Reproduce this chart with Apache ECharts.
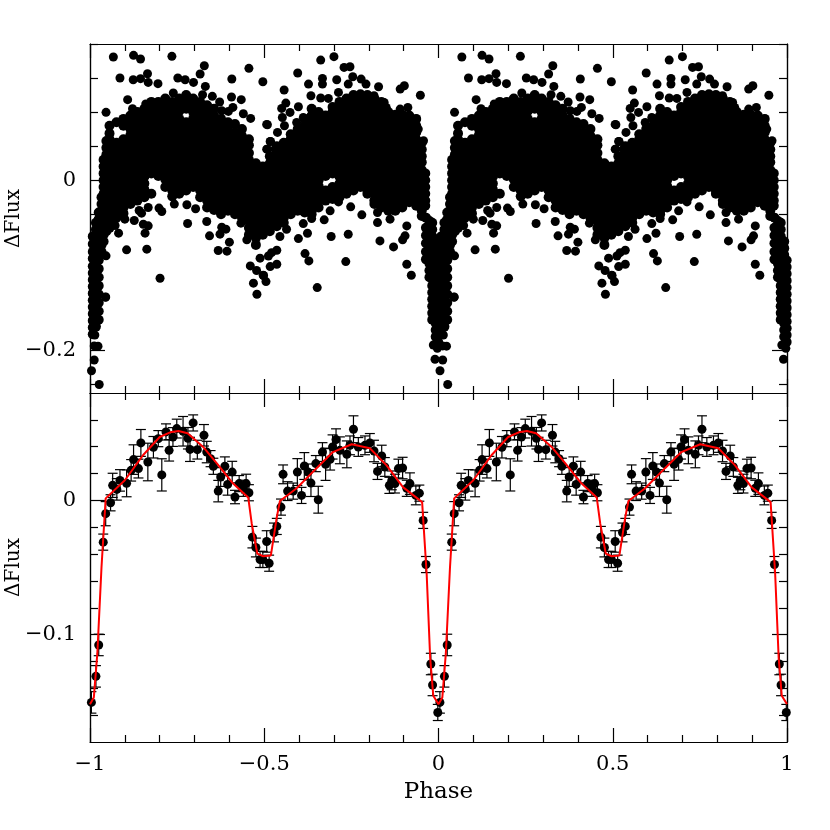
<!DOCTYPE html>
<html>
<head>
<meta charset="utf-8">
<title>Phase folded light curve</title>
<script src="https://cdn.jsdelivr.net/npm/echarts@6/dist/echarts.min.js"></script>
<style>
  html, body { margin: 0; padding: 0; background: #fff; }
  #chart { width: 830px; height: 830px; }
</style>
</head>
<body>
<div id="chart"></div>
<script>
// Top panel: one cycle of the folded data.
// The dense part is kept per column: [phase, [flux in units of 0.001, ...]]
const coreColumns = [
  [-.944, [64,55,48,41,32,24,17,8,0,-7,-16,-24,-33,-40,-48,-56]],
  [-.924, [68,44,37,28,20,12,5,-4,-12,-21,-28,-36,-44]],
  [-.904, [72,64,48,40,31,24,16,8,1,-8,-16,-25,-32,-39]],
  [-.884, [76,68,60,53,44,36,29,20,12,4,-3,-12,-20,-28]],
  [-.864, [80,72,65,56,48,40,33,24,16,9,0,-8,-15,-24]],
  [-.844, [84,76,69,60,52,45,36,28,20,13,4,-4,-11,-20]],
  [-.824, [92,88,80,73,64,56,47,40,32,24,17,8,-16]],
  [-.804, [92,84,77,68,60,52,44,37,28,20,12,5]],
  [-.784, [96,88,80,72,65,56,48,40,33,24,16,8,1,-8]],
  [-.764, [92,84,76,69,60,52,44,36,29,20,12,4,-3,-12,-19]],
  [-.744, [96,88,81,72,64,57,48,40,32,25,16,8,0,-9,-16]],
  [-.724, [100,92,84,68,60,52,45,36,28,20,13,4,-4,-12]],
  [-.704, [96,89,80,72,64,57,48,40,32,24,17,8,0,-8]],
  [-.684, [92,84,76,68,61,52,44,36,29,20,12,4,-3,-12,-20]],
  [-.664, [88,80,72,65,56,48,40,33,24,16,8,1,-8,-16,-24,-32]],
  [-.644, [84,76,68,60,53,44,36,28,21,12,4,-4,-11,-20,-28,-35]],
  [-.624, [72,64,57,48,40,32,25,16,8,0,-7,-16,-24,-32,-40]],
  [-.604, [68,60,52,45,36,28,20,13,4,-4,-12,-19,-28,-36]],
  [-.584, [66,56,49,40,32,24,17,8,0,-8,-16,-24,-31,-40]],
  [-.564, [60,52,44,37,28,20,12,5,-4,-12,-20,-27,-36,-44]],
  [-.544, [48,41,32,24,16,9,0,-8,-16,-23,-32,-40,-48,-56,-64]],
  [-.524, [20,12,4,-3,-12,-20,-28,-35,-44,-52,-60,-68,-76]],
  [-.504, [16,8,1,-8,-16,-24,-31,-40,-48,-56,-64]],
  [-.484, [28,20,12,4,-4,-11,-20,-28,-36,-43,-52,-60]],
  [-.464, [40,33,24,16,8,0,-7,-16,-24,-32,-40,-47,-54]],
  [-.444, [44,36,28,21,12,4,-4,-12,-19,-28,-36,-44,-50]],
  [-.424, [54,48,40,32,24,17,8,0,-8,-16,-23,-32,-40]],
  [-.404, [60,52,45,36,28,20,12,5,-4,-12,-20,-27,-36]],
  [-.384, [72,64,56,49,40,32,24,16,9,0,-8,-16,-24,-31,-38]],
  [-.364, [84,76,68,60,53,44,36,28,20,13,4,-4,-12,-20,-28,-36,-40]],
  [-.344, [80,72,65,56,48,40,32,25,16,8,0,-7,-16,-24,-32]],
  [-.324, [76,68,60,52,45,36,28,20,12,5,-12,-20,-24]],
  [-.304, [86,80,72,64,57,48,40,32,24,17,8,-8,-15,-22]],
  [-.284, [92,84,76,68,61,52,44,36,28,21,12,4,-4,-12,-20]],
  [-.264, [96,88,81,72,64,56,49,40,32,24,17,8,0,-8,-16]],
  [-.244, [100,92,84,77,68,60,52,44,37,28,20,12,5,-4,-12]],
  [-.224, [101,96,88,80,73,64,56,48,40,33,24,16,8,1,-8]],
  [-.204, [100,92,84,76,69,60,52,44,36,29,20,12,4,-3,-12,-16]],
  [-.184, [96,88,80,72,65,56,48,40,32,25,16,8,0,-7,-16,-24,-28]],
  [-.164, [92,84,76,68,60,53,44,36,28,20,13,4,-4,-12,-20,-28,-32]],
  [-.144, [80,72,64,57,48,40,32,24,17,8,0,-8,-15,-24,-32,-36]],
  [-.124, [76,68,60,52,45,36,28,20,12,5,-4,-12,-20,-28,-36]],
  [-.104, [77,72,64,56,49,40,32,24,16,9,0,-8,-16,-24,-32]],
  [-.084, [76,68,60,52,44,37,28,20,12,4,-3,-12,-20,-26]],
  [-.064, [72,64,56,48,41,32,24,16,8,1,-8,-16,-24,-30]],
  [-.048, [44,36,28,21,12,4,-4,-12,-20,-28,-36,-42]],
  [-.038, [8,0,-8,-16,-24,-30]]
];

// walls and bottom of the deep eclipse
const eclipseColumns = [
  [-.953, [46,38,30,21,13,6,-2,-10,-18,-27,-35,-43,-51,-60]],
  [-.961, [24,16,8,0,-8,-16,-24,-32,-40,-48,-56,-64,-72]],
  [-.967, [-20,-28,-36,-44,-52,-60,-68,-76,-84]],
  [-.975, [-38,-46,-54,-62,-70,-78,-86,-94,-104,-114,-124,-134,-144,-154,-164]],
  [-.983, [-50,-58,-66,-74,-82,-92,-100,-108,-116,-124,-132,-140,-148,-156,-164,-172]],
  [-.992, [-66,-75,-84,-92,-101,-109,-117,-125,-133,-141,-149,-157,-165,-173,-181]],
  [-.001, [-94,-102,-110,-118,-126,-134,-142,-150,-158,-166,-174,-182,-190]],
  [-.008, [-72,-80,-88,-96,-104,-112,-120,-128,-136,-144,-152,-160,-168,-176,-184]],
  [-.018, [-50,-58,-66,-74,-84,-92,-100,-108,-116,-124,-132,-140,-148,-156,-164]],
  [-.026, [-48,-56,-65,-73,-82,-90,-98,-106,-114]],
  [-.036, [-44,-56,-65,-74,-84,-93]]
];

// separate dots around the dense part
const looseDots = [
  [-.933,.1447],[-.875,.1467],[-.855,.1424],[-.765,.1455],[-.672,.1345],[-.544,.1314],[-.684,.1247],
  [-.835,.1251],[-.914,.12],[-.876,.118],[-.855,.1193],[-.833,.1149],[-.805,.1134],[-.748,.12],
  [-.727,.118],[-.703,.1149],[-.593,.1189],[-.504,.1157],[-.669,.1102],[-.761,.1024],[-.677,.1004],
  [-.649,.0985],[-.594,.0977],[-.566,.0946],[-.892,.0946],[-.628,.0918],[-.84,.0895],[-.59,.0855],
  [-.954,.0797],[-.878,.084],[-.622,.0816],[-.603,.0808],[-.56,.0781],[-.539,.0726],[-.493,.0655],
  [-.483,.0456],[-.491,.0365],[-.3,.1451],[-.338,.1411],[-.271,.1325],[-.254,.1333],[-.404,.1259],
  [-.373,.1129],[-.333,.1196],[-.333,.1129],[-.292,.118],[-.246,.1215],[-.222,.1188],[-.443,.1059],
  [-.438,.0906],[-.45,.0843],[-.426,.0796],[-.448,.0737],[-.442,.0639],[-.491,.0651],[-.462,.0561],
  [-.402,.0863],[-.388,.0737],[-.407,.0678],[-.366,.0992],[-.338,.0965],[-.316,.0961],[-.287,.1031],
  [-.259,.1129],[-.208,.1129],[-.172,.1098],[-.185,.0992],[-.11,.107],[-.098,.111],[-.052,.0998],
  [-.156,.0914],[-.15,.0855],[-.124,.0776],[-.11,.0835],[-.088,.0855],[-.482,.0455],[-.493,.0365],
  [-.469,.0365],[-.064,.0718],[-.058,.06],[-.043,.0463],
  [-.799,-.1152],[-.72,-.0509],[-.895,-.0818],[-.837,-.081],[-.842,-.0622],[-.918,-.0622],[-.833,-.0536],
  [-.847,-.0517],[-.928,-.0532],[-.954,-.0889],[-.955,-.1371],[-.632,-.0826],[-.607,-.0834],[-.6,-.0728],
  [-.657,-.0654],[-.627,-.0634],[-.61,-.0575],[-.622,-.0552],[-.665,-.0485],[-.873,-.0474],[-.9,-.0458],
  [-.852,-.0387],[-.859,-.0356],[-.833,-.0321],[-.802,-.0328],[-.794,-.0368],[-.758,-.0281],[-.722,-.0289],
  [-.697,-.0336],[-.54,-.1007],[-.522,-.1061],[-.502,-.112],[-.495,-.1191],[-.531,-.121],[-.521,-.134],
  [-.512,-.0916],[-.55,-.0701],[-.567,-.0505],[-.348,-.1262],[-.266,-.0956],[-.383,-.0862],[-.372,-.0948],
  [-.308,-.0662],[-.259,-.0635],[-.168,-.0713],[-.129,-.0784],[-.091,-.0988],[-.078,-.1117],[-.091,-.0537],
  [-.096,-.0654],[-.103,-.0701],[-.376,-.0623],[-.402,-.0686],[-.436,-.0576],[-.455,-.0662],[-.464,-.0823],
  [-.479,-.0851],[-.488,-.089],[-.464,-.0988],[-.483,-.1015],[-.503,-.1117],[-.328,-.0466],[-.311,-.036],
  [-.22,-.0407],[-.175,-.0498],[-.175,-.038],[-.139,-.0458],[-.252,-.0313],[-.287,-.0255],[-.388,-.051],
  [-.364,-.0451],[-.9736,-.24],[-.9957,-.2238],[-.01,-.2104],[-.988,-.2112],[-.0148,-.1936],[-.988,-.1947],
  [-.0033,-.1975],[-.9861,-.1818],[-.9555,-.1375],[-.977,-.195]
];

// Bottom panel: binned points for one cycle
const binPhase = [-.996,-.983,-.975,-.962,-.955,-.941,-.935,-.923,-.914,-.895,-.882,-.875,-.861,-.854,-.834,
  -.818,-.804,-.794,-.782,-.773,-.762,-.751,-.733,-.719,-.713,-.704,-.692,-.673,-.665,-.654,-.646,-.632,
  -.625,-.613,-.605,-.592,-.584,-.572,-.56,-.552,-.544,-.534,-.524,-.512,-.504,-.493,-.486,-.472,-.464,
  -.452,-.446,-.433,-.417,-.405,-.393,-.385,-.374,-.366,-.352,-.345,-.333,-.324,-.311,-.304,-.294,-.283,
  -.263,-.254,-.244,-.23,-.211,-.197,-.185,-.175,-.163,-.154,-.141,-.134,-.125,-.115,-.103,-.091,-.082,
  -.065,-.055,-.044,-.036,-.022,-.017,-.002];
const binFlux = [-.1505,-.1311,-.1077,-.0311,-.0099,-.0018,.0112,.0082,.0149,.0127,.0224,.0304,.0237,.0428,.0286,
  .0396,.046,.019,.051,.0373,.0472,.0535,.0515,.0463,.038,.0577,.0378,.0485,.036,.0311,.0254,.0069,
  .0174,.0254,.0119,.0211,.0025,.0125,.009,.0125,.0057,-.0274,-.0351,-.044,-.044,-.0306,-.0468,-.0239,-.0194,
  -.005,.0194,.0069,.0069,.0211,.0037,.0256,.0211,.0129,.0274,.0005,.036,.0269,.0306,.0398,.0453,.0373,
  .0343,.041,.053,.0398,.041,.0428,.0368,.0216,.0331,.0249,.0112,.0149,.0125,.0237,.0241,.009,.0125,
  .0037,.0054,-.0149,-.0478,-.1219,-.1375,-.158];
const binError = [.008,.008,.008,.006,.009,.006,.009,.008,.008,.01,.008,.011,.007,.01,.014,
  .008,.006,.012,.006,.008,.007,.007,.011,.008,.009,.006,.007,.008,.008,.006,.006,.008,
  .007,.007,.008,.008,.005,.006,.006,.007,.006,.008,.007,.006,.006,.008,.006,.007,.006,
  .006,.007,.007,.006,.01,.006,.01,.006,.01,.006,.01,.007,.012,.008,.009,.008,.01,
  .01,.007,.01,.007,.007,.007,.008,.006,.008,.007,.006,.007,.007,.007,.008,.006,.008,
  .007,.006,.006,.006,.008,.008,.006];

// Red model curve for one cycle
const modelPhase = [-1,-.989,-.979,-.967,-.955,-.9,-.848,-.8,-.77,-.746,-.72,-.676,-.636,-.59,-.546,-.536,-.52,
  -.503,-.481,-.464,-.455,-.407,-.35,-.303,-.249,-.197,-.149,-.102,-.047,-.034,-.024,-.015,0];
const modelFlux = [-.1518,-.1468,-.1142,-.0498,.0015,.015,.0336,.0472,.0507,.0517,.05,.04,.0276,.0127,.0022,-.0172,-.0396,
  -.0416,-.041,-.0125,-.0005,.009,.024,.036,.0418,.0388,.0261,.0099,-.0013,-.0545,-.1169,-.1455,-.1518];

// Axis ticks
const phaseLimits = [-1, 1];
const topLimits = [-.25, .16];
const topMajor = [0, -.2];
const topMinor = [.16, .12, .08, .04, -.04, -.08, -.12, -.16, -.24];
const lowLimits = [-.18, .08];
const lowMajor = [0, -.1];
const lowMinor = [.06, .04, .02, -.02, -.04, -.06, -.08, -.12, -.14, -.16];

const TEXT_FONT = '"DejaVu Serif"';
const LABEL_SIZE = 21;

const fmtTick = v => String(v).replace('-', '\u2212');

// the dense columns as [phase, flux] pairs
const coreCycle = [];
coreColumns.concat(eclipseColumns).forEach(([phase, fluxes]) => {
  fluxes.forEach(f => coreCycle.push([phase, f / 1000]));
});

// the folded curve is plotted twice, from -1 to 0 and from 0 to 1
const twoCycles = rows => rows.concat(rows.map(r => [r[0] + 1, ...r.slice(1)]));

const binRows = twoCycles(binPhase.map((p, i) => [p, binFlux[i], binError[i]]));
const modelRows = twoCycles(modelPhase.map((p, i) => [p, modelFlux[i]]));

function phaseAxis(gridIndex, position, withLabels) {
  return {
    type: 'value', gridIndex, position,
    min: phaseLimits[0], max: phaseLimits[1], interval: .5,
    splitLine: { show: false },
    axisLine: { onZero: false, lineStyle: { color: '#000', width: 1.2 } },
    axisTick: { inside: true, length: 14, lineStyle: { color: '#000', width: 1.2 } },
    minorTick: { show: true, splitNumber: 5, length: 7, lineStyle: { color: '#000', width: 1.2 } },
    axisLabel: {
      show: withLabels, formatter: fmtTick, margin: 12, hideOverlap: false, showMinLabel: true, showMaxLabel: true,
      color: '#000', fontFamily: TEXT_FONT, fontSize: LABEL_SIZE
    },
    name: withLabels ? 'Phase' : '',
    nameLocation: 'middle', nameGap: 39,
    nameTextStyle: { color: '#000', fontFamily: TEXT_FONT, fontSize: LABEL_SIZE + 2 }
  };
}

function fluxAxis(gridIndex, position, limits, ticks, tickLength, labels) {
  const axis = {
    type: 'value', gridIndex, position,
    min: limits[0], max: limits[1],
    splitLine: { show: false },
    axisLine: { onZero: false, lineStyle: { color: '#000', width: 1.2 } },
    axisTick: { inside: true, length: tickLength, customValues: ticks, lineStyle: { color: '#000', width: 1.2 } },
    axisLabel: { show: false }
  };
  if (labels) {
    axis.axisLabel = {
      show: true, customValues: labels, formatter: fmtTick, margin: 14,
      color: '#000', fontFamily: TEXT_FONT, fontSize: LABEL_SIZE
    };
    axis.name = '\u0394Flux';
    axis.nameLocation = 'middle';
    axis.nameRotate = 90;
    axis.nameGap = 66;
    axis.nameMoveOverlap = false;
    axis.nameTextStyle = { color: '#000', fontFamily: TEXT_FONT, fontSize: LABEL_SIZE - 1 };
  }
  return axis;
}

function renderErrorBar(params, api) {
  const x = api.value(0), y = api.value(1), err = api.value(2);
  const hi = api.coord([x, y + err]);
  const lo = api.coord([x, y - err]);
  const cap = 5;
  const style = { stroke: '#000', lineWidth: 1.2, fill: null };
  const seg = (x1, y1, x2, y2) => ({ type: 'line', shape: { x1, y1, x2, y2 }, style });
  return {
    type: 'group',
    children: [
      seg(hi[0], hi[1], lo[0], lo[1]),
      seg(hi[0] - cap, hi[1], hi[0] + cap, hi[1]),
      seg(lo[0] - cap, lo[1], lo[0] + cap, lo[1])
    ]
  };
}

const option = {
  animation: false,
  backgroundColor: '#fff',
  grid: [
    { left: 90, top: 44, width: 697, height: 349, outerBoundsMode: 'none' },
    { left: 90, top: 393, width: 697, height: 349, outerBoundsMode: 'none' }
  ],
  xAxis: [
    phaseAxis(0, 'bottom', false),
    phaseAxis(0, 'top', false),
    phaseAxis(1, 'bottom', true),
    phaseAxis(1, 'top', false)
  ],
  yAxis: [
    fluxAxis(0, 'left', topLimits, topMajor, 15, topMajor),
    fluxAxis(0, 'left', topLimits, topMinor, 8),
    fluxAxis(0, 'right', topLimits, topMajor, 15),
    fluxAxis(0, 'right', topLimits, topMinor, 8),
    fluxAxis(1, 'left', lowLimits, lowMajor, 15, lowMajor),
    fluxAxis(1, 'left', lowLimits, lowMinor, 8),
    fluxAxis(1, 'right', lowLimits, lowMajor, 15),
    fluxAxis(1, 'right', lowLimits, lowMinor, 8)
  ],
  series: [
    {
      type: 'scatter', xAxisIndex: 0, yAxisIndex: 0,
      data: twoCycles(coreCycle), symbol: 'circle', symbolSize: 10,
      itemStyle: { color: '#000', opacity: 1 }, silent: true
    },
    {
      type: 'scatter', xAxisIndex: 0, yAxisIndex: 0,
      data: twoCycles(looseDots), symbol: 'circle', symbolSize: 9,
      itemStyle: { color: '#000', opacity: 1 }, silent: true
    },
    {
      type: 'custom', xAxisIndex: 2, yAxisIndex: 4,
      data: binRows, renderItem: renderErrorBar, clip: true,
      encode: { x: 0, y: 1 }, silent: true, z: 2
    },
    {
      type: 'scatter', xAxisIndex: 2, yAxisIndex: 4,
      data: binRows.map(r => [r[0], r[1]]), symbol: 'circle', symbolSize: 9,
      itemStyle: { color: '#000', opacity: 1 }, silent: true, z: 3
    },
    {
      type: 'line', xAxisIndex: 2, yAxisIndex: 4,
      data: modelRows, showSymbol: false, symbol: 'none',
      lineStyle: { color: '#f00', width: 2 }, silent: true, z: 4
    }
  ]
};

const chart = echarts.init(document.getElementById('chart'));
chart.setOption(option);
</script>
</body>
</html>
